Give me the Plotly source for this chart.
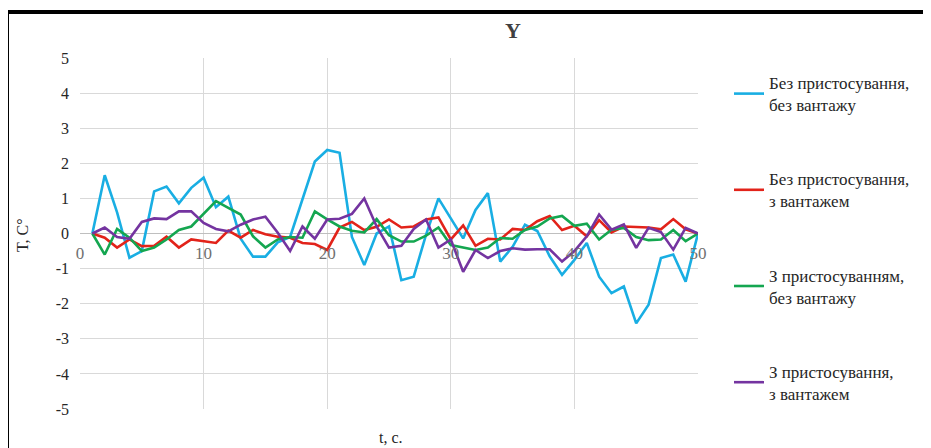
import plotly.graph_objects as go

# ---- data ----
t = list(range(1, 51))

blue = [0, 1.66, 0.6, -0.69, -0.5, 1.2, 1.34, 0.86, 1.3, 1.59,
        0.75, 1.05, -0.15, -0.66, -0.66, -0.25, -0.1, 0.95, 2.05, 2.38,
        2.3, -0.1, -0.9, 0.0, 0.2, -1.33, -1.23, -0.03, 1.0, 0.43,
        -0.14, 0.67, 1.15, -0.8, -0.38, 0.25, 0.07, -0.65, -1.18, -0.75,
        -0.27, -1.23, -1.7, -1.51, -2.56, -2.03, -0.7, -0.6, -1.37, 0]

red = [0, -0.12, -0.4, -0.17, -0.36, -0.35, -0.09, -0.4, -0.17, -0.22,
       -0.27, 0.08, -0.12, 0.1, -0.02, -0.09, -0.12, -0.27, -0.3, -0.47,
       0.17, 0.33, 0.1, 0.19, 0.4, 0.17, 0.2, 0.4, 0.46, -0.17,
       0.23, -0.35, -0.15, -0.17, 0.13, 0.1, 0.35, 0.5, 0.1, 0.22,
       -0.08, 0.38, 0.03, 0.2, 0.18, 0.17, 0.12, 0.41, 0.12, 0]

green = [0, -0.6, 0.13, -0.12, -0.5, -0.4, -0.17, 0.1, 0.2, 0.55,
         0.92, 0.73, 0.54, -0.08, -0.4, -0.17, -0.1, -0.12, 0.63, 0.4,
         0.2, 0.08, 0.03, 0.41, -0.05, -0.23, -0.23, -0.06, 0.17, -0.33,
         -0.4, -0.47, -0.4, -0.13, -0.15, 0.1, 0.2, 0.43, 0.5, 0.22,
         0.28, -0.17, 0.11, 0.16, -0.1, -0.19, -0.17, 0.1, -0.22, 0]

purple = [0, 0.17, -0.1, -0.15, 0.33, 0.43, 0.41, 0.63, 0.63, 0.3,
          0.13, 0.06, 0.25, 0.4, 0.48, 0.02, -0.5, 0.2, -0.15, 0.4,
          0.42, 0.56, 1.0, 0.2, -0.4, -0.35, 0.13, 0.4, -0.4, -0.17,
          -1.09, -0.47, -0.7, -0.5, -0.42, -0.46, -0.45, -0.45, -0.8, -0.5,
          -0.08, 0.54, 0.11, 0.26, -0.41, 0.16, 0.04, -0.46, 0.16, 0]

series_names = [
    "Без пристосування,<br>без вантажу",
    "Без пристосування,<br>з вантажем",
    "З пристосуванням,<br>без вантажу",
    "З пристосування,<br>з вантажем",
]
series_values = [blue, red, green, purple]
series_colors = ["#19AEE3", "#E2231A", "#14A650", "#7434A0"]

x_ticks = [0, 10, 20, 30, 40, 50]
y_ticks = [-5, -4, -3, -2, -1, 0, 1, 2, 3, 4, 5]

# ---- layout geometry (page has an 8px body margin, so the figure is offset) ----
OFF = 8
PAGE_W, PAGE_H = 931, 448
W, H = PAGE_W - OFF, PAGE_H - OFF
# plot-area edges in page pixels
PL, PR, PT, PB = 80, 698, 58, 409
L, T = PL - OFF, PT - OFF
R, B = W - (PR - OFF), H - (PB - OFF)
PW = PR - PL
PH = PB - PT


def xp(px):  # page pixel -> paper x
    return (px - PL) / PW


def yp(py):  # page pixel -> paper y
    return (PB - py) / PH


SERIF = "Liberation Serif"

fig = go.Figure()
for name, vals, col in zip(series_names, series_values, series_colors):
    fig.add_trace(go.Scatter(
        x=t, y=vals, mode="lines", name=name, legendgroup=name,
        line=dict(color=col, width=2.6),
    ))

fig.update_layout(
    width=W, height=H,
    margin=dict(l=L, r=R, t=T, b=B, autoexpand=False),
    paper_bgcolor="white", plot_bgcolor="white",
    showlegend=True,
    title=dict(text="<b>Y</b>", x=(513 - OFF) / W, xanchor="center",
               y=1 - (30 - OFF) / H, yanchor="middle",
               xref="container", yref="container",
               font=dict(family=SERIF, size=22, color="#404040")),
    legend=dict(x=xp(729), xanchor="left", y=yp(65), yanchor="top",
                font=dict(family=SERIF, size=17, color="#262626"),
                tracegroupgap=49, bgcolor="rgba(0,0,0,0)", valign="middle",
                maxheight=420),
    xaxis=dict(range=[0, 50], tickvals=x_ticks, ticktext=[str(v) for v in x_ticks],
               showgrid=True, gridcolor="#d9d9d9", gridwidth=1,
               zeroline=False, showline=False,
               anchor="free", position=0.5, ticks="", ticklabelstandoff=7,
               tickfont=dict(family=SERIF, size=17, color="#707070")),
    yaxis=dict(range=[-5, 5], tickvals=y_ticks, ticktext=[str(v) for v in y_ticks],
               showgrid=True, gridcolor="#d9d9d9", gridwidth=1,
               zeroline=True, zerolinecolor="#bfbfbf", zerolinewidth=1,
               showline=False, ticks="", ticklabelstandoff=10,
               tickfont=dict(family=SERIF, size=16, color="#262626")),
    annotations=[
        dict(text="T, C°", x=xp(22), y=yp(235), xref="paper", yref="paper",
             textangle=-90, showarrow=False, xanchor="center", yanchor="middle",
             font=dict(family=SERIF, size=16, color="#262626")),
        dict(text="t, c.", x=xp(391), y=yp(437), xref="paper", yref="paper",
             showarrow=False, xanchor="center", yanchor="middle",
             font=dict(family=SERIF, size=16, color="#262626")),
    ],
    shapes=[
        dict(type="rect", xref="paper", yref="paper", x0=xp(5), x1=xp(9),
             y0=yp(PAGE_H + 5), y1=yp(10),
             fillcolor="black", line=dict(width=0), layer="above"),
        dict(type="rect", xref="paper", yref="paper", x0=xp(5), x1=xp(PAGE_W + 5),
             y0=yp(14), y1=yp(10),
             fillcolor="black", line=dict(width=0), layer="above"),
    ],
)

fig.write_html("out.html")
